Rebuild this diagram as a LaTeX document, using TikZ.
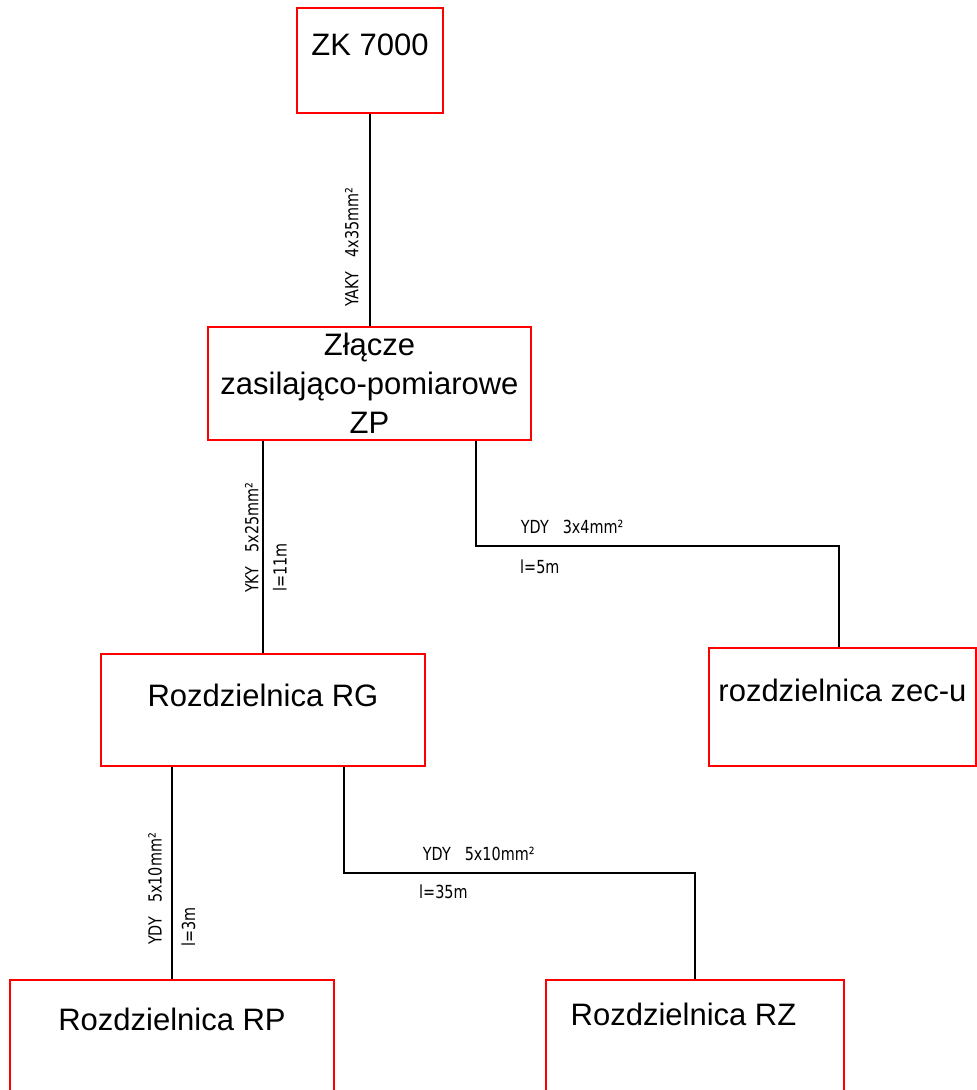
\documentclass[tikz,border=0pt]{standalone}
\usepackage{fontspec}
\setmainfont{Liberation Sans}
\newfontfamily\cadfont[FakeStretch=0.8]{DejaVu Sans}
\usetikzlibrary{positioning,calc}

\begin{document}
\begin{tikzpicture}[
    x=1pt, y=-1pt,
    board/.style={rectangle, draw=red, line width=2pt, font=\fontsize{31}{39}\selectfont, text height=23pt},
    cable/.style={draw=black, line width=1.7pt},
    hlab/.style={font=\cadfont\fontsize{18}{20}\selectfont, anchor=base west, inner sep=0pt},
    vlab/.style={hlab, rotate=90}
]
    \useasboundingbox (0,0) rectangle (977,1090);

    % Boards
    \node[board, minimum width=146pt, minimum height=105pt, text depth=34pt] (zk) at (370,60.5) {ZK 7000};
    \node[board, minimum width=323pt, minimum height=113pt, align=center, text height=, text depth=] (zp) at (369.5,383.5) {Złącze\\zasilająco-pomiarowe\\ZP};
    \node[board, minimum width=324pt, minimum height=112pt, text depth=31pt] (rg) at (263,710) {Rozdzielnica RG};
    \node[board, minimum width=267pt, minimum height=118pt, text depth=35pt] (zec) at (842.5,707) {rozdzielnica zec-u};
    \node[board, minimum width=324pt, minimum height=112pt, text depth=35pt] (rp) at (172,1036) {Rozdzielnica RP};
    \node[board, minimum width=298pt, minimum height=112pt, text depth=45pt] (rz) at (695,1036) {Rozdzielnica RZ\hspace*{23pt}};

    % Cables
    \draw[cable] (zk.south) -- (zk.south |- zp.north);
    \draw[cable] (zp.south -| rg.north) -- (rg.north);
    \draw[cable] ([xshift=106.5pt]zp.south) |- ([xshift=-3.5pt,yshift=101pt]zec.north) -- ([xshift=-3.5pt]zec.north);
    \draw[cable] (rp.north |- rg.south) -- (rp.north);
    \draw[cable] ([xshift=81pt]rg.south) |- ([yshift=106pt]rz.north) -- (rz.north);

    % Cable labels
    \node[vlab] (c1) at (358.3,307) {YAKY\hspace{14pt}4x35mm²};
    \node[vlab] (c2) at (258.3,593) {YKY\hspace{14pt}5x25mm²};
    \node[vlab] (c2l) at (286.7,592) {l=11m};
    \node[hlab] (c3) at (520.7,533.3) {YDY\hspace{14pt}3x4mm²};
    \node[hlab] (c3l) at (520,573) {l=5m};
    \node[vlab] (c4) at (161.7,945) {YDY\hspace{14pt}5x10mm²};
    \node[vlab] (c4l) at (195,946.7) {l=3m};
    \node[hlab] (c5) at (422.7,860) {YDY\hspace{14pt}5x10mm²};
    \node[hlab] (c5l) at (419,898.3) {l=35m};
\end{tikzpicture}
\end{document}
